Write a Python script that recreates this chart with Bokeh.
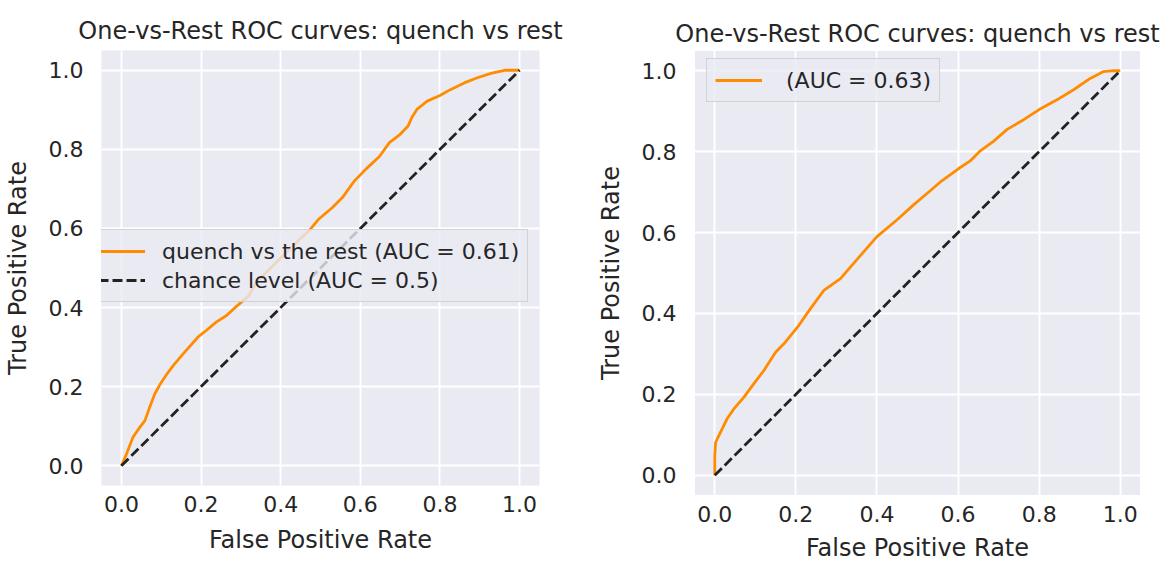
from bokeh.plotting import figure
from bokeh.layouts import row
from bokeh.models import Range1d, FixedTicker, PrintfTickFormatter, Legend, LegendItem
from bokeh.embed import file_html
from bokeh.resources import INLINE

# ---------------- data ----------------
title_text = "One-vs-Rest ROC curves: quench vs rest"
x_label = "False Positive Rate"
y_label = "True Positive Rate"
tick_values = [0.0, 0.2, 0.4, 0.6, 0.8, 1.0]

# left panel: quench vs the rest (AUC = 0.61)
fpr_left = [0.0, 0.013, 0.029, 0.046, 0.059, 0.071, 0.084, 0.096, 0.113, 0.13, 0.155, 0.192,
            0.213, 0.238, 0.264, 0.289, 0.32, 0.34, 0.38, 0.42, 0.45, 0.471, 0.496, 0.530,
            0.555, 0.585, 0.614, 0.648, 0.673, 0.700, 0.72, 0.729, 0.742, 0.768, 0.8, 0.826,
            0.861, 0.894, 0.928, 0.962, 1.0]
tpr_left = [0.0, 0.03, 0.072, 0.097, 0.114, 0.148, 0.182, 0.204, 0.23, 0.253, 0.283, 0.325,
            0.342, 0.363, 0.38, 0.403, 0.43, 0.465, 0.505, 0.545, 0.575, 0.594, 0.624, 0.653,
            0.678, 0.72, 0.75, 0.782, 0.817, 0.838, 0.859, 0.88, 0.901, 0.922, 0.936, 0.951,
            0.968, 0.981, 0.992, 1.0, 1.0]
label_left = "quench vs the rest (AUC = 0.61)"

# right panel: (AUC = 0.63)
fpr_right = [0.0, 0.0, 0.002, 0.014, 0.030, 0.047, 0.072, 0.096, 0.121, 0.150, 0.174, 0.204,
             0.236, 0.269, 0.310, 0.360, 0.40, 0.449, 0.491, 0.532, 0.560, 0.6, 0.630, 0.655,
             0.688, 0.721, 0.762, 0.8, 0.844, 0.885, 0.926, 0.959, 0.984, 1.0]
tpr_right = [0.0, 0.048, 0.081, 0.106, 0.139, 0.164, 0.193, 0.226, 0.259, 0.304, 0.329, 0.366,
             0.412, 0.457, 0.486, 0.544, 0.59, 0.631, 0.669, 0.704, 0.728, 0.757, 0.777, 0.802,
             0.826, 0.855, 0.879, 0.904, 0.928, 0.953, 0.981, 0.998, 1.0, 1.0]
label_right = " (AUC = 0.63)"

chance_x = [0.0, 1.0]
chance_y = [0.0, 1.0]
label_chance = "chance level (AUC = 0.5)"

# ---------------- style ----------------
FONT = "DejaVu Sans"
TXT = "#262626"
BG = "#EAEAF2"
ORANGE = "#FF8C00"
DARK = "#222222"


def make_fig(width, height, bl, br, bt, bb, xs2):
    p = figure(width=width, height=height, output_backend="svg", toolbar_location=None,
               x_range=Range1d(-0.05, 1.05), y_range=Range1d(-0.05, 1.05),
               min_border_left=bl, min_border_right=br, min_border_top=bt, min_border_bottom=bb)
    p.background_fill_color = BG
    p.border_fill_color = "white"
    p.outline_line_color = None
    p.title.text = title_text
    p.title.align = "center"
    p.title.text_font = FONT
    p.title.text_font_size = "24px"
    p.title.text_font_style = "normal"
    p.title.text_color = TXT
    p.xaxis.axis_label = x_label
    p.yaxis.axis_label = y_label
    for ax in (p.xaxis, p.yaxis):
        ax.ticker = FixedTicker(ticks=tick_values)
        ax.formatter = PrintfTickFormatter(format="%.1f")
        ax.axis_line_color = None
        ax.major_tick_line_color = None
        ax.minor_tick_line_color = None
        ax.major_tick_out = 0
        ax.major_tick_in = 0
        ax.major_label_text_font = FONT
        ax.major_label_text_font_size = "22px"
        ax.major_label_text_color = TXT
        ax.axis_label_text_font = FONT
        ax.axis_label_text_font_size = "24px"
        ax.axis_label_text_font_style = "normal"
        ax.axis_label_text_color = TXT
    p.yaxis.major_label_standoff = 18
    p.yaxis.axis_label_standoff = 14
    p.xaxis.major_label_standoff = 10
    p.xaxis.axis_label_standoff = xs2
    for g in (p.xgrid, p.ygrid):
        g.ticker = FixedTicker(ticks=tick_values)
        g.grid_line_color = "white"
        g.grid_line_width = 2
    return p


def style_legend(lg):
    lg.label_text_font = FONT
    lg.label_text_font_size = "22px"
    lg.label_text_color = TXT
    lg.glyph_width = 47
    lg.glyph_height = 26
    lg.label_height = 26
    lg.label_standoff = 17
    lg.padding = 8
    lg.spacing = 3
    lg.margin = 0
    lg.background_fill_color = BG
    lg.background_fill_alpha = 0.8
    lg.border_line_color = "#cccccc"
    lg.border_line_alpha = 0.8
    lg.border_line_width = 1


# left figure
p1 = make_fig(590, 560, 100, 51, 50, 75, 11)
p1.title.standoff = 12
r1 = p1.line(fpr_left, tpr_left, line_color=ORANGE, line_width=2.8)
r1c = p1.line(chance_x, chance_y, line_color=DARK, line_width=2.8, line_dash="10 4")
lg1 = Legend(items=[LegendItem(label=label_left, renderers=[r1]),
                    LegendItem(label=label_chance, renderers=[r1c])],
             location=(-12, 183))
style_legend(lg1)
p1.add_layout(lg1)

# right figure
p2 = make_fig(577, 570, 104, 27, 50, 73, 9)
p2.title.standoff = 5
p2.outline_line_color = "white"
p2.outline_line_width = 1
r2 = p2.line(fpr_right, tpr_right, line_color=ORANGE, line_width=2.8)
p2.line(chance_x, chance_y, line_color=DARK, line_width=2.8, line_dash="10 4")
lg2 = Legend(items=[LegendItem(label=label_right, renderers=[r2])], location=(12, 393))
style_legend(lg2)
p2.add_layout(lg2)

layout = row(p1, p2)
open("out.html", "w").write(file_html(layout, INLINE))
